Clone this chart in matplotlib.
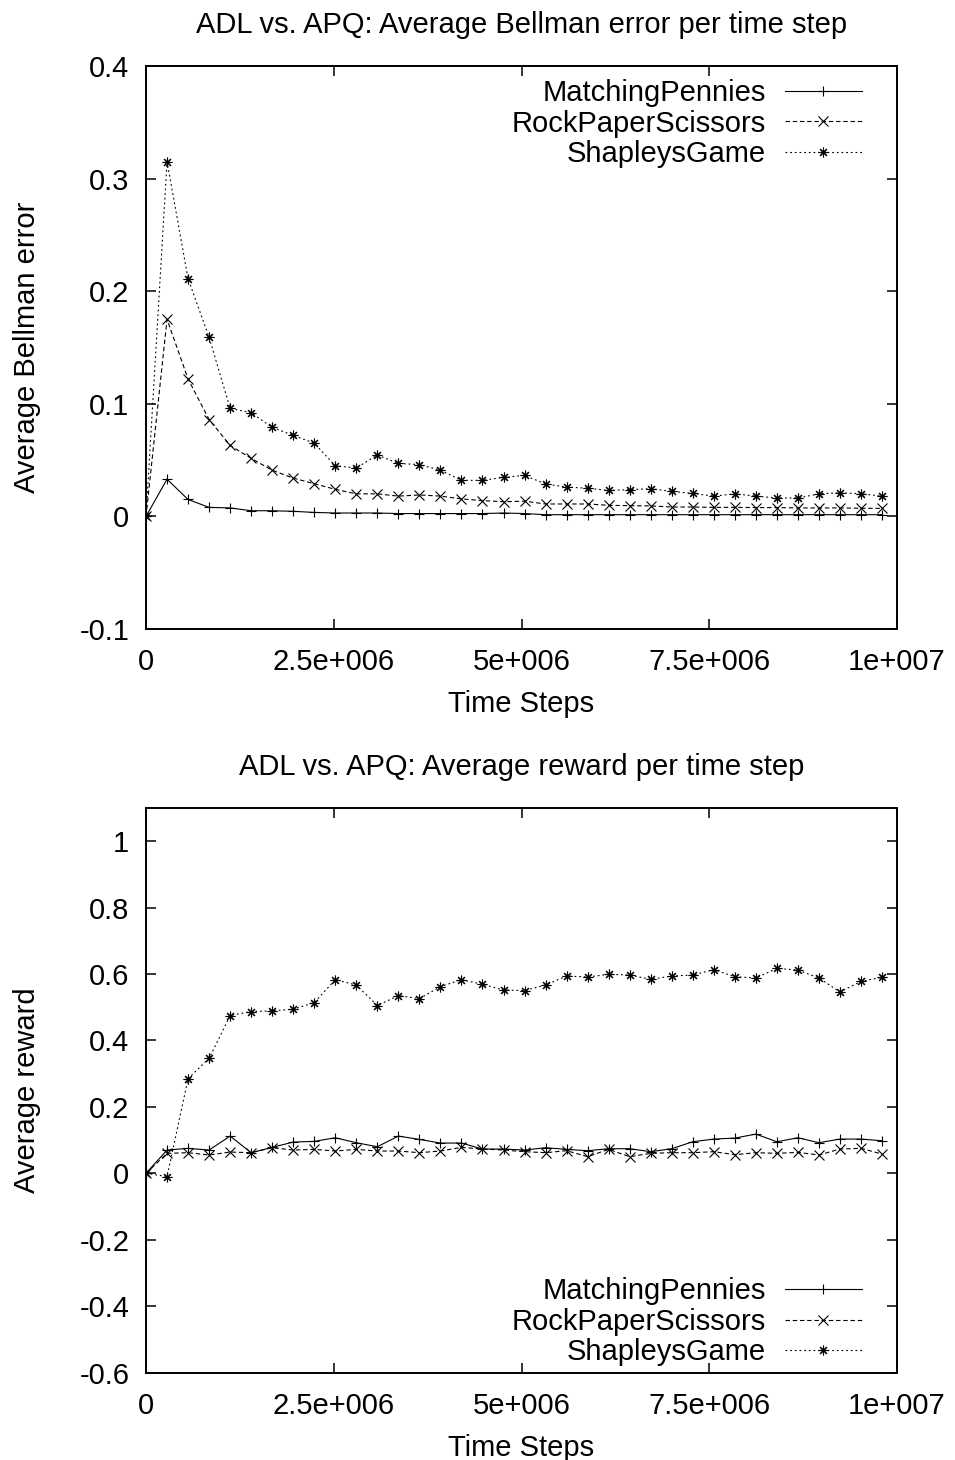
import numpy as np
import matplotlib
matplotlib.use('Agg')
import matplotlib.pyplot as plt

plt.rcParams['font.family'] = ['Liberation Sans', 'DejaVu Sans']
plt.rcParams['font.size'] = 21.0

# time steps (x axis)
steps = [0, 280000, 560000, 840000, 1120000, 1400000, 1680000, 1960000, 2240000,
         2520000, 2800000, 3080000, 3360000, 3640000, 3920000, 4200000, 4480000,
         4760000, 5040000, 5320000, 5600000, 5880000, 6160000, 6440000, 6720000,
         7000000, 7280000, 7560000, 7840000, 8120000, 8400000, 8680000, 8960000,
         9240000, 9520000, 9800000]

games = ['MatchingPennies', 'RockPaperScissors', 'ShapleysGame']

# average Bellman error
mp_err = [0, 0.033, 0.015, 0.008, 0.0075, 0.005, 0.005, 0.0045, 0.0035, 0.003, 0.003, 0.003,
          0.0025, 0.0025, 0.0025, 0.0025, 0.0025, 0.003, 0.0025, 0.0015, 0.0015, 0.0015, 0.0015,
          0.0015, 0.0015, 0.0015, 0.0015, 0.0015, 0.0015, 0.0015, 0.0015, 0.0015, 0.0015, 0.0015,
          0.0015, 0.0015]
rps_err = [0, 0.175, 0.122, 0.086, 0.063, 0.0515, 0.041, 0.034, 0.029, 0.024, 0.020, 0.020,
           0.018, 0.019, 0.018, 0.0155, 0.014, 0.013, 0.0135, 0.011, 0.011, 0.011, 0.0098,
           0.0095, 0.0093, 0.0083, 0.0083, 0.0080, 0.0080, 0.0078, 0.0078, 0.0075, 0.0075,
           0.0075, 0.0072, 0.0071]
sg_err = [0, 0.315, 0.211, 0.159, 0.096, 0.092, 0.079, 0.072, 0.065, 0.045, 0.043, 0.0545,
          0.047, 0.046, 0.041, 0.032, 0.032, 0.0346, 0.0364, 0.0288, 0.026, 0.025, 0.023,
          0.0237, 0.0246, 0.0222, 0.0204, 0.018, 0.020, 0.018, 0.0163, 0.0163, 0.020, 0.021,
          0.020, 0.018]

# average reward
mp_rew = [0, 0.070, 0.075, 0.070, 0.112, 0.062, 0.078, 0.094, 0.096, 0.107, 0.092, 0.080,
          0.112, 0.102, 0.091, 0.091, 0.073, 0.073, 0.070, 0.077, 0.072, 0.068, 0.074, 0.074,
          0.065, 0.074, 0.095, 0.103, 0.106, 0.118, 0.095, 0.107, 0.092, 0.103, 0.103, 0.098]
rps_rew = [0, 0.060, 0.062, 0.055, 0.064, 0.062, 0.077, 0.070, 0.072, 0.067, 0.072, 0.067,
           0.067, 0.062, 0.067, 0.078, 0.073, 0.070, 0.065, 0.062, 0.068, 0.050, 0.072, 0.050,
           0.060, 0.062, 0.062, 0.065, 0.056, 0.062, 0.060, 0.063, 0.055, 0.073, 0.075, 0.058]
sg_rew = [0, -0.01, 0.285, 0.346, 0.475, 0.487, 0.489, 0.494, 0.514, 0.583, 0.567, 0.505,
          0.535, 0.526, 0.562, 0.583, 0.569, 0.552, 0.550, 0.567, 0.594, 0.591, 0.599, 0.597,
          0.584, 0.594, 0.597, 0.613, 0.592, 0.588, 0.617, 0.612, 0.588, 0.546, 0.578, 0.590]

xticks = [0, 2.5e6, 5e6, 7.5e6, 1e7]
xtick_labels = ['0', '2.5e+006', '5e+006', '7.5e+006', '1e+007']
err_ticks = [-0.1, 0, 0.1, 0.2, 0.3, 0.4]
err_labels = ['-0.1', '0', '0.1', '0.2', '0.3', '0.4']
rew_ticks = [-0.6, -0.4, -0.2, 0, 0.2, 0.4, 0.6, 0.8, 1.0]
rew_labels = ['-0.6', '-0.4', '-0.2', '0', '0.2', '0.4', '0.6', '0.8', '1']

asterisk = (8, 2, 0)
styles = [dict(ls='-', marker='+'),
          dict(ls=(0, (4, 2.5)), marker='x'),
          dict(ls=(0, (1.6, 2.6)), marker=asterisk)]

fig = plt.figure(figsize=(9.55, 14.6), dpi=100)
ax1 = fig.add_axes([0.1529, 0.5692, 0.7864, 0.3856])
ax2 = fig.add_axes([0.1529, 0.0599, 0.7864, 0.3867])


def setup(ax, series, title, ylabel, yticks, ylabels, ylim, leg_anchor):
    for name, vals, st in zip(games, series, styles):
        ax.plot(steps, vals, color='black', lw=0.8, ms=7, mew=0.8,
                label=name, **st)
    ax.set_xlim(0, 1e7)
    ax.set_ylim(*ylim)
    ax.set_xticks(xticks, xtick_labels)
    ax.set_yticks(yticks, ylabels)
    ax.tick_params(direction='in', top=True, right=True, length=7, width=1.1)
    ax.tick_params(axis='x', pad=14)
    ax.tick_params(axis='y', pad=12)
    for s in ax.spines.values():
        s.set_linewidth(1.4)
    ax.set_title(title, pad=24, fontsize=21.0)
    ax.set_xlabel('Time Steps', labelpad=10)
    ax.set_ylabel(ylabel)
    ax.yaxis.set_label_coords(-0.14, 0.5)
    ax.legend(loc='upper right', bbox_to_anchor=leg_anchor, frameon=False,
              markerfirst=False, numpoints=1, handlelength=2.65,
              handletextpad=0.65, labelspacing=0.09, borderpad=0,
              borderaxespad=0)


setup(ax1, [mp_err, rps_err, sg_err],
      'ADL vs. APQ: Average Bellman error per time step',
      'Average Bellman error', err_ticks, err_labels, (-0.1, 0.4), (0.9534, 0.977))
setup(ax2, [mp_rew, rps_rew, sg_rew],
      'ADL vs. APQ: Average reward per time step',
      'Average reward', rew_ticks, rew_labels, (-0.6, 1.1), (0.9534, 0.169))

plt.savefig('out.png', dpi=100)
